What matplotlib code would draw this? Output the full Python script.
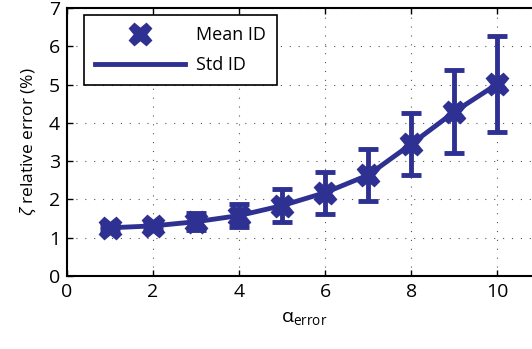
import matplotlib
matplotlib.use('Agg')
import matplotlib.pyplot as plt
from matplotlib.lines import Line2D

alpha_error = [1, 2, 3, 4, 5, 6, 7, 8, 9, 10]
mean_id = [1.26, 1.31, 1.42, 1.58, 1.84, 2.18, 2.64, 3.45, 4.29, 5.02]
std_id = [0.05, 0.08, 0.22, 0.31, 0.43, 0.55, 0.69, 0.82, 1.08, 1.25]

col = '#2E3192'
plt.rcParams['font.family'] = ['Open Sans', 'DejaVu Sans']
plt.rcParams['mathtext.fontset'] = 'custom'
plt.rcParams['mathtext.rm'] = 'Open Sans'
plt.rcParams['mathtext.it'] = 'Open Sans:italic'

fig = plt.figure(figsize=(5.32, 3.49), dpi=100)
ax = fig.add_axes([0.126, 0.209, 0.89, 0.768])

ax.errorbar(alpha_error, mean_id, yerr=std_id, color=col, lw=3.5, elinewidth=3.5,
            capsize=7, capthick=3.5, marker='X', ms=16, mec=col, mfc=col, zorder=3)

ax.set_xlim(0, 11)
ax.set_ylim(0, 7)
ax.set_xticks([0, 2, 4, 6, 8, 10])
ax.set_yticks(range(8))
ax.tick_params(direction='in', labelsize=14, top=True, right=True, length=4, width=1, pad=5)
ax.grid(True, linestyle=(0, (1, 7)), color='#555555', lw=0.8)
for s in ax.spines.values():
    s.set_linewidth(1.5)

ax.set_xlabel('α$_{\\rm error}$', fontsize=14, labelpad=6)
ax.set_ylabel(r'$\zeta$ relative error (%)', fontsize=12.5, labelpad=8)

# proxy handles for the legend
h1 = Line2D([], [], color=col, marker='X', ms=16, ls='none')
h2 = Line2D([], [], color=col, lw=3.5)
leg = ax.legend([h1, h2], ['Mean ID', 'Std ID'], loc='upper left', bbox_to_anchor=(0.036, 0.974),
                borderaxespad=0, fontsize=13, fancybox=False, edgecolor='black', framealpha=1,
                handlelength=5.0, handletextpad=0.6, borderpad=0.6, labelspacing=0.7)
leg.get_frame().set_linewidth(1.2)

fig.savefig('out.png', dpi=100)
